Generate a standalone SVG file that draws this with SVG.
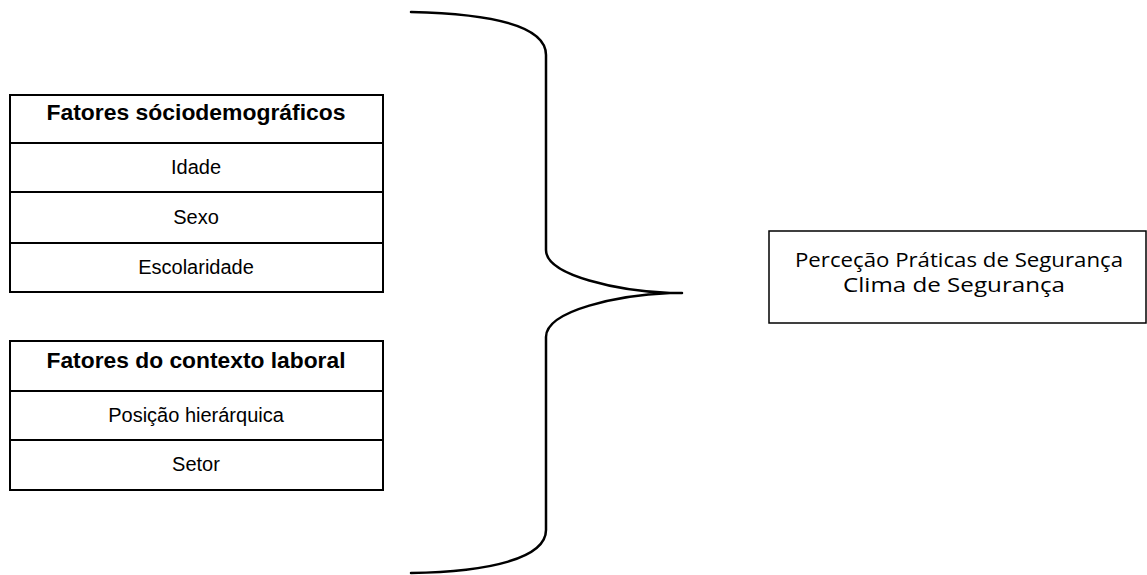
<svg xmlns="http://www.w3.org/2000/svg" width="1147" height="575" viewBox="0 0 1147 575">
<style>
.tbl{fill:#fff;stroke:#000;stroke-width:2}
.ln{stroke:#000;stroke-width:2}
.hd{font-family:"Liberation Sans",Arial,sans-serif;font-weight:bold;font-size:22px;text-anchor:middle;fill:#000}
.rw{font-family:"Liberation Sans",Arial,sans-serif;font-size:20px;text-anchor:middle;fill:#000}
.rt{font-family:"Open Sans","Liberation Sans",sans-serif;font-size:20px;text-anchor:middle;fill:#000}
.brace{fill:none;stroke:#000;stroke-width:2.5;stroke-linecap:round}
</style>
<rect width="1147" height="575" fill="#fff"/>
<g id="socio">
<rect class="tbl" x="10" y="95" width="373" height="197"/>
<line class="ln" x1="10" y1="143" x2="383" y2="143"/>
<line class="ln" x1="10" y1="192" x2="383" y2="192"/>
<line class="ln" x1="10" y1="243" x2="383" y2="243"/>
<text class="hd" x="196" y="120" textLength="299" lengthAdjust="spacingAndGlyphs">Fatores sóciodemográficos</text>
<text class="rw" x="196" y="174">Idade</text>
<text class="rw" x="196" y="224">Sexo</text>
<text class="rw" x="196" y="274">Escolaridade</text>
</g>
<g id="laboral">
<rect class="tbl" x="10" y="341" width="373" height="149"/>
<line class="ln" x1="10" y1="391" x2="383" y2="391"/>
<line class="ln" x1="10" y1="440" x2="383" y2="440"/>
<text class="hd" x="196" y="368" textLength="299" lengthAdjust="spacingAndGlyphs">Fatores do contexto laboral</text>
<text class="rw" x="196" y="422">Posição hierárquica</text>
<text class="rw" x="196" y="471">Setor</text>
</g>
<g id="resultado">
<rect x="769" y="231" width="377" height="92" fill="#fff" stroke="#000" stroke-width="1.5"/>
<text class="rt" x="959" y="267" textLength="328" lengthAdjust="spacingAndGlyphs">Perceção Práticas de Segurança</text>
<text class="rt" x="954" y="292" textLength="222" lengthAdjust="spacingAndGlyphs">Clima de Segurança</text>
</g>
<g id="connectors">
<path class="brace" d="M411,12 C500,14 546,28 546,55 L546,250 C546,276 620,291 670,293 L682,293 M670,293 C620,295 546,310 546,337 L546,530 C546,558 490,572 411,573"/>
</g>
</svg>
